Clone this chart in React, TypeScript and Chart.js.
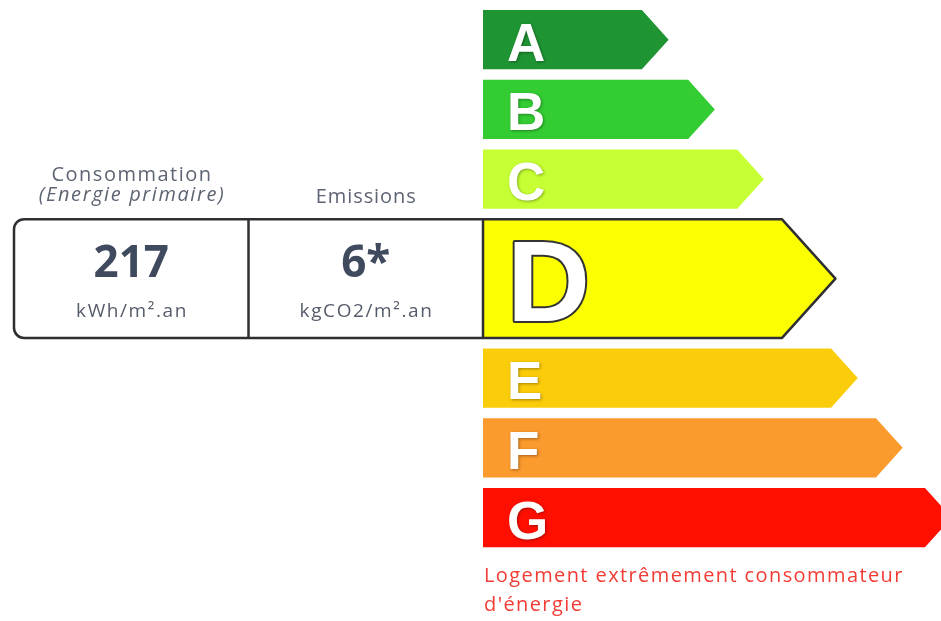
import React, { useEffect, useRef } from 'react';
import { Chart, registerables } from 'chart.js';

Chart.register(...registerables);

// ---- data ----
const grades = ['A', 'B', 'C', 'D', 'E', 'F', 'G'];
const barLengths = [34.7, 44.8, 55.5, 65.3, 76.0, 85.8, 96.5];
const gradeColors = ['#1f9433', '#33cc33', '#c6ff33', '#fbff00', '#fbcc0a', '#fb9a2d', '#ff0f00'];
const activeGrade = 'D';
const consumptionTitle = ['Consommation', '(Energie primaire)'];
const consumptionValue = '217';
const consumptionUnit = 'kWh/m².an';
const emissionTitle = 'Emissions';
const emissionValue = '6*';
const emissionUnit = 'kgCO2/m².an';
const warningLines = ['Logement extrêmement consommateur', "d'énergie"];

// ---- layout (row units on the y scale) ----
const ROW_START = 0.143;
const GAP = 0.15;
const ACTIVE_SLOT = 1.85;
const TABLE_LEFT = 14;
const FONT = '"Open Sans", "DejaVu Sans", sans-serif';

function rowBounds() {
  let t = ROW_START;
  return grades.map((g) => {
    const slot = g === activeGrade ? ACTIVE_SLOT : 1;
    const b = { top: t, bottom: t + slot - GAP };
    t += slot;
    return b;
  });
}

function centeredText(ctx: CanvasRenderingContext2D, text: string, cx: number, y: number, spacing: number) {
  (ctx as any).letterSpacing = `${spacing}px`;
  ctx.textAlign = 'left';
  const w = ctx.measureText(text).width - spacing;
  ctx.fillText(text, cx - w / 2, y);
  (ctx as any).letterSpacing = '0px';
}

const energyPlugin = {
  id: 'energyLabel',
  afterDatasetsDraw(chart: any) {
    const ctx: CanvasRenderingContext2D = chart.ctx;
    const xs = chart.scales.x;
    const ys = chart.scales.y;
    const rows = rowBounds();
    ctx.save();
    grades.forEach((g, i) => {
      const x0 = xs.getPixelForValue(0);
      const x1 = xs.getPixelForValue(barLengths[i]);
      const y0 = ys.getPixelForValue(rows[i].top);
      const y1 = ys.getPixelForValue(rows[i].bottom);
      const h = y1 - y0;
      const mid = (y0 + y1) / 2;
      const tip = h * 0.45;
      const active = g === activeGrade;

      if (active) {
        const r = 10;
        const L = TABLE_LEFT;
        ctx.fillStyle = '#ffffff';
        ctx.fillRect(L, y0, x0 - L, h);
        ctx.beginPath();
        ctx.moveTo(x0, y0);
        ctx.lineTo(x1, y0);
        ctx.lineTo(x1 + tip, mid);
        ctx.lineTo(x1, y1);
        ctx.lineTo(x0, y1);
        ctx.closePath();
        ctx.fillStyle = gradeColors[i];
        ctx.fill();
        ctx.beginPath();
        ctx.moveTo(L + r, y0);
        ctx.lineTo(x1, y0);
        ctx.lineTo(x1 + tip, mid);
        ctx.lineTo(x1, y1);
        ctx.lineTo(L + r, y1);
        ctx.arcTo(L, y1, L, y1 - r, r);
        ctx.lineTo(L, y0 + r);
        ctx.arcTo(L, y0, L + r, y0, r);
        ctx.closePath();
        ctx.moveTo(x0, y0);
        ctx.lineTo(x0, y1);
        const div = (L + x0) / 2;
        ctx.moveTo(div, y0);
        ctx.lineTo(div, y1);
        ctx.lineWidth = 2.5;
        ctx.lineJoin = 'round';
        ctx.strokeStyle = '#2f2f33';
        ctx.stroke();

        const c1 = (L + div) / 2;
        const c2 = (div + x0) / 2;
        ctx.textBaseline = 'alphabetic';
        ctx.fillStyle = '#5d6472';
        ctx.font = `20px ${FONT}`;
        centeredText(ctx, consumptionTitle[0], c1, y0 - 38, 1.5);
        ctx.font = `italic 20px ${FONT}`;
        centeredText(ctx, consumptionTitle[1], c1, y0 - 18, 1.6);
        ctx.font = `20px ${FONT}`;
        centeredText(ctx, emissionTitle, c2, y0 - 16, 0.9);

        ctx.fillStyle = '#404a5e';
        ctx.font = `bold 44px ${FONT}`;
        centeredText(ctx, consumptionValue, c1, y0 + 58, 0);
        centeredText(ctx, emissionValue, c2, y0 + 58, 0);

        ctx.fillStyle = '#555c69';
        ctx.font = `19px ${FONT}`;
        centeredText(ctx, consumptionUnit, c1, y0 + 98, 1.6);
        centeredText(ctx, emissionUnit, c2, y0 + 98, 1.6);

        const size = Math.round(h * 0.97);
        ctx.textAlign = 'left';
        ctx.font = `bold ${size}px "Liberation Sans", Arial, sans-serif`;
        const base = mid + size * 0.716 / 2 + 1;
        ctx.lineWidth = 4;
        ctx.strokeStyle = '#333333';
        ctx.strokeText(g, x0 + 24, base);
        ctx.fillStyle = '#ffffff';
        ctx.fillText(g, x0 + 24, base);
      } else {
        ctx.beginPath();
        ctx.moveTo(x0, y0);
        ctx.lineTo(x1, y0);
        ctx.lineTo(x1 + tip, mid);
        ctx.lineTo(x1, y1);
        ctx.lineTo(x0, y1);
        ctx.closePath();
        ctx.fillStyle = gradeColors[i];
        ctx.fill();

        const size = Math.round(h * 0.9);
        ctx.save();
        ctx.textAlign = 'left';
        ctx.textBaseline = 'alphabetic';
        ctx.font = `bold ${size}px "Liberation Sans", Arial, sans-serif`;
        ctx.shadowColor = 'rgba(0,0,0,0.35)';
        ctx.shadowBlur = 3;
        ctx.shadowOffsetX = 1;
        ctx.shadowOffsetY = 1;
        ctx.fillStyle = '#ffffff';
        ctx.fillText(g, x0 + 24, mid + size * 0.716 / 2 + 2);
        ctx.restore();
      }

      if (i === grades.length - 1) {
        ctx.textAlign = 'left';
        ctx.textBaseline = 'alphabetic';
        ctx.fillStyle = '#f23c35';
        ctx.font = `20px ${FONT}`;
        (ctx as any).letterSpacing = '1.4px';
        ctx.fillText(warningLines[0], x0 + 1, y1 + 35);
        ctx.fillText(warningLines[1], x0 + 1, y1 + 64);
        (ctx as any).letterSpacing = '0px';
      }
    });
    ctx.restore();
  },
};

export default function App() {
  const ref = useRef<HTMLCanvasElement | null>(null);
  useEffect(() => {
    document.body.style.margin = '0';
    const canvas = ref.current;
    if (!canvas) return;
    const rows = rowBounds();
    const chart = new Chart(canvas, {
      type: 'scatter',
      data: {
        datasets: [
          {
            label: 'DPE',
            data: grades.map((g, i) => ({ x: barLengths[i], y: (rows[i].top + rows[i].bottom) / 2 })),
            pointRadius: 0,
            backgroundColor: gradeColors,
          },
        ],
      },
      options: {
        animation: false,
        responsive: false,
        maintainAspectRatio: false,
        layout: { padding: { left: 483, right: 0, top: 0, bottom: 0 } },
        scales: {
          x: { type: 'linear', min: 0, max: 100, display: false },
          y: { type: 'linear', min: 0, max: 8.9, reverse: true, display: false },
        },
        plugins: { legend: { display: false }, tooltip: { enabled: false } },
      },
      plugins: [energyPlugin],
    });
    return () => chart.destroy();
  }, []);
  return (
    <div style={{ position: 'relative', width: 941, height: 621, background: '#ffffff' }}>
      <canvas ref={ref} width={941} height={621} style={{ display: 'block', width: 941, height: 621 }} />
    </div>
  );
}
